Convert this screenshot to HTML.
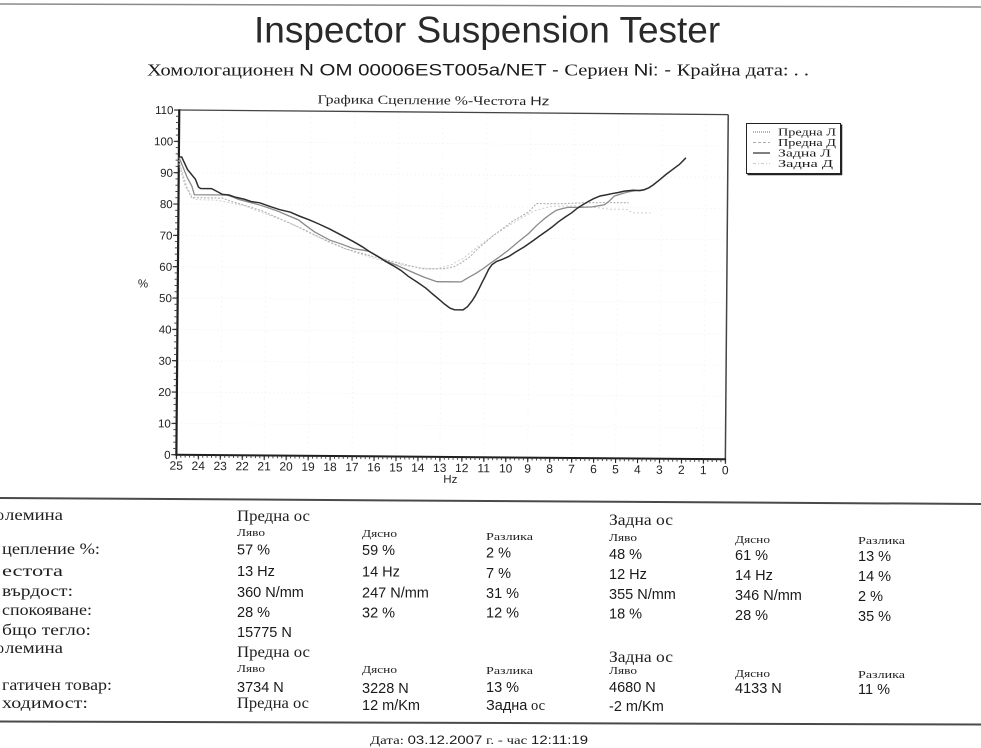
<!DOCTYPE html>
<html><head><meta charset="utf-8">
<style>
html,body{margin:0;padding:0;background:#fff;}
svg{display:block}
.s{font-family:"Liberation Serif","DejaVu Serif","Noto Serif CJK SC",serif;}
.a{font-family:"Liberation Sans","DejaVu Sans",sans-serif;}
</style></head>
<body>
<svg width="981" height="748" viewBox="0 0 981 748" xmlns="http://www.w3.org/2000/svg">
<defs>
<pattern id="xmin" patternUnits="userSpaceOnUse" x="177.35" y="0" width="4.392" height="20"><rect x="0" y="0" width="0.9" height="20" fill="#333"/></pattern>
<pattern id="xmaj" patternUnits="userSpaceOnUse" x="177.3" y="0" width="21.96" height="20"><rect x="0" y="0" width="1.1" height="20" fill="#222"/></pattern>
<pattern id="ymin" patternUnits="userSpaceOnUse" x="0" y="111.85" width="20" height="6.2672"><rect x="0" y="0" width="20" height="0.9" fill="#333"/></pattern>
<pattern id="ymaj" patternUnits="userSpaceOnUse" x="0" y="111.8" width="20" height="31.336"><rect x="0" y="0" width="20" height="1.1" fill="#222"/></pattern>
</defs>

<!-- top scan line -->
<line x1="0" y1="4" x2="981" y2="7" stroke="#8a8a8a" stroke-width="1.5"/>

<!-- Title -->
<text class="a" x="254" y="42.5" font-size="37" fill="#2a2a2a">Inspector Suspension Tester</text>

<!-- Subtitle -->
<text x="147" y="75.5" font-size="17" fill="#1a1a1a" textLength="662" lengthAdjust="spacingAndGlyphs"><tspan class="s">Хомологационен </tspan><tspan class="a">N OM 00006EST005a/NET - </tspan><tspan class="s">Сериен </tspan><tspan class="a">Ni:  - </tspan><tspan class="s">Крайна дата:    .  .</tspan></text>

<!-- Chart (slightly rotated like the scan) -->
<g transform="rotate(0.48 452 285)">
  <text x="316" y="104.5" font-size="12.5" fill="#222" textLength="232" lengthAdjust="spacingAndGlyphs"><tspan class="s">Графика Сцепление %-Честота </tspan><tspan class="a">Hz</tspan></text>

  <!-- faint grid -->
  <g stroke="#efefef" stroke-width="1" stroke-dasharray="1 3">
    <line x1="178" y1="425.66" x2="726.8" y2="425.66"/>
    <line x1="178" y1="394.33" x2="726.8" y2="394.33"/>
    <line x1="178" y1="362.99" x2="726.8" y2="362.99"/>
    <line x1="178" y1="331.66" x2="726.8" y2="331.66"/>
    <line x1="178" y1="300.32" x2="726.8" y2="300.32"/>
    <line x1="178" y1="268.98" x2="726.8" y2="268.98"/>
    <line x1="178" y1="237.65" x2="726.8" y2="237.65"/>
    <line x1="178" y1="206.31" x2="726.8" y2="206.31"/>
    <line x1="178" y1="174.98" x2="726.8" y2="174.98"/>
    <line x1="178" y1="143.64" x2="726.8" y2="143.64"/>
  </g>
  <g stroke="#f0f0f0" stroke-width="1" stroke-dasharray="1 4">
    <line x1="221.72" y1="113" x2="221.72" y2="456"/>
    <line x1="265.64" y1="113" x2="265.64" y2="456"/>
    <line x1="309.56" y1="113" x2="309.56" y2="456"/>
    <line x1="353.48" y1="113" x2="353.48" y2="456"/>
    <line x1="397.4" y1="113" x2="397.4" y2="456"/>
    <line x1="441.32" y1="113" x2="441.32" y2="456"/>
    <line x1="485.24" y1="113" x2="485.24" y2="456"/>
    <line x1="529.16" y1="113" x2="529.16" y2="456"/>
    <line x1="573.08" y1="113" x2="573.08" y2="456"/>
    <line x1="617.0" y1="113" x2="617.0" y2="456"/>
    <line x1="660.92" y1="113" x2="660.92" y2="456"/>
    <line x1="704.84" y1="113" x2="704.84" y2="456"/>
  </g>

  <!-- frame -->
  <line x1="177.8" y1="112.3" x2="726.8" y2="112.3" stroke="#444" stroke-width="1.3"/>
  <line x1="726.8" y1="112.3" x2="726.8" y2="457" stroke="#444" stroke-width="1.5"/>
  <line x1="177.8" y1="111.5" x2="177.8" y2="458" stroke="#1e1e1e" stroke-width="2.2"/>
  <line x1="177" y1="457" x2="727.5" y2="457" stroke="#1e1e1e" stroke-width="2"/>

  <!-- ticks -->
  <rect x="174.6" y="111.5" width="3.2" height="346.5" fill="url(#ymin)"/>
  <rect x="172.6" y="111.5" width="5.2" height="346.5" fill="url(#ymaj)"/>
  <rect x="177" y="457" width="550.5" height="2.8" fill="url(#xmin)"/>
  <rect x="177" y="457" width="551" height="4.6" fill="url(#xmaj)"/>

  <!-- y labels -->
  <g class="a" font-size="11.5" fill="#222" text-anchor="end">
    <text x="172" y="461.2">0</text>
    <text x="172" y="429.9">10</text>
    <text x="172" y="398.5">20</text>
    <text x="172" y="367.2">30</text>
    <text x="172" y="335.9">40</text>
    <text x="172" y="304.5">50</text>
    <text x="172" y="273.2">60</text>
    <text x="172" y="241.9">70</text>
    <text x="172" y="210.5">80</text>
    <text x="172" y="179.2">90</text>
    <text x="172" y="147.8">100</text>
    <text x="172" y="116.5">110</text>
  </g>
  <text class="a" x="143" y="290" font-size="11.5" fill="#222" text-anchor="middle">%</text>

  <!-- x labels -->
  <g class="a" font-size="12" fill="#222" text-anchor="middle">
    <text x="177.8" y="472">25</text>
    <text x="199.76" y="472">24</text>
    <text x="221.72" y="472">23</text>
    <text x="243.68" y="472">22</text>
    <text x="265.64" y="472">21</text>
    <text x="287.6" y="472">20</text>
    <text x="309.56" y="472">19</text>
    <text x="331.52" y="472">18</text>
    <text x="353.48" y="472">17</text>
    <text x="375.44" y="472">16</text>
    <text x="397.4" y="472">15</text>
    <text x="419.36" y="472">14</text>
    <text x="441.32" y="472">13</text>
    <text x="463.28" y="472">12</text>
    <text x="485.24" y="472">11</text>
    <text x="507.2" y="472">10</text>
    <text x="529.16" y="472">9</text>
    <text x="551.12" y="472">8</text>
    <text x="573.08" y="472">7</text>
    <text x="595.04" y="472">6</text>
    <text x="617.0" y="472">5</text>
    <text x="638.96" y="472">4</text>
    <text x="660.92" y="472">3</text>
    <text x="682.88" y="472">2</text>
    <text x="704.84" y="472">1</text>
    <text x="726.8" y="472">0</text>
  </g>
  <text class="a" x="452" y="483" font-size="11.5" fill="#222" text-anchor="middle">Hz</text>

  <!-- series (data coordinates: x = Hz, y = %) -->
  <g transform="translate(177.8 457) scale(-21.96 -3.1336) translate(-25 0)" fill="none">
    <!-- Задна Д -->
    <polyline vector-effect="non-scaling-stroke" stroke="#cfcfcf" stroke-width="1" stroke-dasharray="2 2"
      points="25,94 24.6,85 24.3,81.5 23.2,81.3 22,79.6 21,77 20,74.5 19,71 18,67.8 17,65.2 16,63 15,61.3 14,60.3 13.2,60 12.5,61.5 12,63.5 11.3,67.5 10.5,71.5 9.6,75.5 8.8,78.8 8,80.3 7,80.5 6,80 5.4,79.5 4.6,79.5 4.3,78.4 3.5,78.4"/>
    <!-- Предна Д -->
    <polyline vector-effect="non-scaling-stroke" stroke="#b0b0b0" stroke-width="1.1" stroke-dasharray="2 1.5"
      points="25,93 24.7,86 24.4,82.1 23,82 22.6,81 22.1,80 21.2,78.1 20.3,75.3 19.4,72.6 18.45,69.4 17.4,66.2 16.3,64.1 15.4,62.5 14.5,61 13.75,59.9 12.85,60.1 12.4,60.8 12.1,62 11.7,64 11.4,66.2 10.7,70.5 9.8,75.3 9.05,78.4 8.7,81.1 7.6,81.1 6.5,81.5 5.5,81.6 4.5,81.6"/>
    <!-- Предна Л -->
    <polyline vector-effect="non-scaling-stroke" stroke="#8a8a8a" stroke-width="1.3"
      points="25,95 24.6,88.3 24.4,85.8 24.28,83 23.5,83 22.8,83 22.5,82.3 22.25,81.6 21.8,80.8 21.35,80 20.9,79 20.44,77.9 20,76.6 19.54,75.3 19.2,73.5 18.8,71.5 18.45,70.2 18.1,68.9 17.5,67.5 17,66.2 16.6,65.8 16.3,65.4 15.9,63.9 15.56,62.5 15.1,61.2 14.66,59.9 14.2,58.5 13.75,57.2 13.2,55.9 12.6,55.9 12.1,55.9 11.8,57.2 11.4,58.8 11.1,60.2 10.86,61.5 10.4,63.8 9.95,66.2 9.5,68.9 9.05,71.5 8.7,74 8.33,76.3 8.05,77.8 7.8,79 7.5,79.6 7.24,80 6.7,80 6.16,80.2 5.6,80.9 5.4,82 5.16,83.7 4.8,84.5 4.5,85.1 4.2,85.5 3.8,85.8"/>
    <!-- Задна Л -->
    <polyline vector-effect="non-scaling-stroke" stroke="#2e2e2e" stroke-width="1.5"
      points="25,95 24.87,95 24.6,91 24.24,88 24.1,85.5 24,85 23.5,85 23.3,84.3 23,83.2 22.7,83 22.4,82.3 22,81.7 21.7,81 21.3,80.6 20.8,79.4 20.4,78.5 19.9,77.7 19.5,76.5 19,75.2 18.6,74 18.1,72.4 17.6,70.6 17,68.4 16.6,66.8 16.3,65.4 15.9,63.8 15.56,62.3 15.2,60.9 14.84,59.4 14.5,57.5 14.1,55.7 13.7,53.8 13.4,52 13.1,50.3 12.85,48.8 12.6,47.5 12.4,47 12,47 11.8,48 11.6,49.8 11.45,51.5 11.3,53.5 11.15,55.7 11.0,57.8 10.85,60 10.7,61.5 10.5,62.5 10.2,63.3 9.95,64.1 9.6,65.7 9.23,67.3 8.85,69.2 8.5,71 8.2,72.5 7.97,73.7 7.7,75.3 7.4,76.8 7.1,78.2 6.88,79.5 6.6,80.8 6.34,81.9 6.1,82.8 5.8,83.7 5.5,84.1 5.25,84.5 5,84.8 4.7,85.3 4.3,85.6 4.0,85.5 3.8,85.8 3.6,86.4 3.4,87.3 3.1,89 2.8,90.8 2.54,92.2 2.2,94 1.91,96.1"/>
  </g>
</g>

<!-- Legend -->
<rect x="746.5" y="123.5" width="94" height="50" fill="#fff" stroke="#222" stroke-width="1"/>
<line x1="841.5" y1="124.5" x2="841.5" y2="175" stroke="#222" stroke-width="1.5"/>
<line x1="747.5" y1="174.5" x2="842" y2="174.5" stroke="#222" stroke-width="1.5"/>
<line x1="753" y1="132" x2="770" y2="132" stroke="#666" stroke-width="1" stroke-dasharray="1 1"/>
<line x1="753" y1="142.5" x2="770" y2="142.5" stroke="#aaa" stroke-width="1" stroke-dasharray="3 2"/>
<line x1="753" y1="153" x2="770" y2="153" stroke="#333" stroke-width="1.2"/>
<line x1="753" y1="163.5" x2="770" y2="163.5" stroke="#ccc" stroke-width="1" stroke-dasharray="3 2 1 2"/>
<g class="s" font-size="10.5" fill="#1a1a1a">
  <text x="778" y="135.5" textLength="58" lengthAdjust="spacingAndGlyphs">Предна Л</text>
  <text x="778" y="146" textLength="58" lengthAdjust="spacingAndGlyphs">Предна Д</text>
  <text x="778" y="156.5" textLength="53" lengthAdjust="spacingAndGlyphs">Задна Л</text>
  <text x="778" y="167" textLength="55" lengthAdjust="spacingAndGlyphs">Задна Д</text>
</g>

<!-- Table separators -->
<line x1="0" y1="498" x2="981" y2="504" stroke="#4a4a4a" stroke-width="2"/>
<line x1="0" y1="721.5" x2="981" y2="724.5" stroke="#4a4a4a" stroke-width="2"/>

<!-- Left labels (cut at page edge) -->
<g class="s" font-size="15.5" fill="#1e1e1e">
  <text x="4" y="520" text-anchor="end">Го</text><text x="5" y="520" textLength="58" lengthAdjust="spacingAndGlyphs">лемина</text>
  <text x="2" y="554" textLength="98" lengthAdjust="spacingAndGlyphs">цепление %:</text>
  <text x="2" y="576" textLength="61" lengthAdjust="spacingAndGlyphs">естота</text>
  <text x="2" y="596" textLength="71" lengthAdjust="spacingAndGlyphs">върдост:</text>
  <text x="2" y="615" textLength="90" lengthAdjust="spacingAndGlyphs">спокояване:</text>
  <text x="2" y="635" textLength="89" lengthAdjust="spacingAndGlyphs">бщо тегло:</text>
  <text x="4" y="653" text-anchor="end">Го</text><text x="5" y="653" textLength="58" lengthAdjust="spacingAndGlyphs">лемина</text>
  <text x="2" y="690" textLength="110" lengthAdjust="spacingAndGlyphs">гатичен товар:</text>
  <text x="2" y="708" textLength="86" lengthAdjust="spacingAndGlyphs">ходимост:</text>
</g>

<!-- Axle headers -->
<g class="s" font-size="15.5" fill="#1e1e1e">
  <text x="237" y="521" textLength="73" lengthAdjust="spacingAndGlyphs">Предна ос</text>
  <text x="609" y="525" textLength="64" lengthAdjust="spacingAndGlyphs">Задна ос</text>
  <text x="237" y="657" textLength="73" lengthAdjust="spacingAndGlyphs">Предна ос</text>
  <text x="609" y="662" textLength="64" lengthAdjust="spacingAndGlyphs">Задна ос</text>
  <text x="237" y="708" textLength="72" lengthAdjust="spacingAndGlyphs">Предна ос</text>
</g>

<!-- small column headers -->
<g class="s" font-size="10.5" fill="#222">
  <text x="237" y="536" textLength="28" lengthAdjust="spacingAndGlyphs">Ляво</text>
  <text x="362" y="537" textLength="35" lengthAdjust="spacingAndGlyphs">Дясно</text>
  <text x="486" y="540" textLength="47" lengthAdjust="spacingAndGlyphs">Разлика</text>
  <text x="609" y="541" textLength="28" lengthAdjust="spacingAndGlyphs">Ляво</text>
  <text x="735" y="543" textLength="35" lengthAdjust="spacingAndGlyphs">Дясно</text>
  <text x="858" y="544" textLength="47" lengthAdjust="spacingAndGlyphs">Разлика</text>
  <text x="237" y="672" textLength="28" lengthAdjust="spacingAndGlyphs">Ляво</text>
  <text x="362" y="673" textLength="35" lengthAdjust="spacingAndGlyphs">Дясно</text>
  <text x="486" y="674" textLength="47" lengthAdjust="spacingAndGlyphs">Разлика</text>
  <text x="609" y="674" textLength="28" lengthAdjust="spacingAndGlyphs">Ляво</text>
  <text x="735" y="677" textLength="35" lengthAdjust="spacingAndGlyphs">Дясно</text>
  <text x="858" y="678" textLength="47" lengthAdjust="spacingAndGlyphs">Разлика</text>
</g>

<!-- values -->
<g class="a" font-size="14.5" fill="#1a1a1a">
  <text x="237" y="554.5">57 %</text>
  <text x="237" y="576">13 Hz</text>
  <text x="237" y="597">360 N/mm</text>
  <text x="237" y="617">28 %</text>
  <text x="237" y="637">15775 N</text>
  <text x="237" y="692">3734 N</text>

  <text x="362" y="555">59 %</text>
  <text x="362" y="576.5">14 Hz</text>
  <text x="362" y="597.5">247 N/mm</text>
  <text x="362" y="617.5">32 %</text>
  <text x="362" y="693">3228 N</text>
  <text x="362" y="710">12 m/Km</text>

  <text x="486" y="557.5">2 %</text>
  <text x="486" y="578">7 %</text>
  <text x="486" y="598">31 %</text>
  <text x="486" y="617.5">12 %</text>
  <text x="486" y="692">13 %</text>

  <text x="609" y="559">48 %</text>
  <text x="609" y="579">12 Hz</text>
  <text x="609" y="599">355 N/mm</text>
  <text x="609" y="618.5">18 %</text>
  <text x="609" y="692">4680 N</text>
  <text x="609" y="711">-2 m/Km</text>

  <text x="735" y="560">61 %</text>
  <text x="735" y="580">14 Hz</text>
  <text x="735" y="600">346 N/mm</text>
  <text x="735" y="620">28 %</text>
  <text x="735" y="693">4133 N</text>

  <text x="858" y="561">13 %</text>
  <text x="858" y="581">14 %</text>
  <text x="858" y="601">2 %</text>
  <text x="858" y="621">35 %</text>
  <text x="858" y="694">11 %</text>
</g>
<text x="486" y="710" font-size="14.5" fill="#1a1a1a"><tspan class="a">Задна</tspan><tspan class="s"> ос</tspan></text>

<!-- date -->
<text x="370" y="744" font-size="12" fill="#1a1a1a" textLength="218" lengthAdjust="spacingAndGlyphs"><tspan class="s">Дата: </tspan><tspan class="a">03.12.2007</tspan><tspan class="s"> г. - час </tspan><tspan class="a">12:11:19</tspan></text>
</svg>
</body></html>
